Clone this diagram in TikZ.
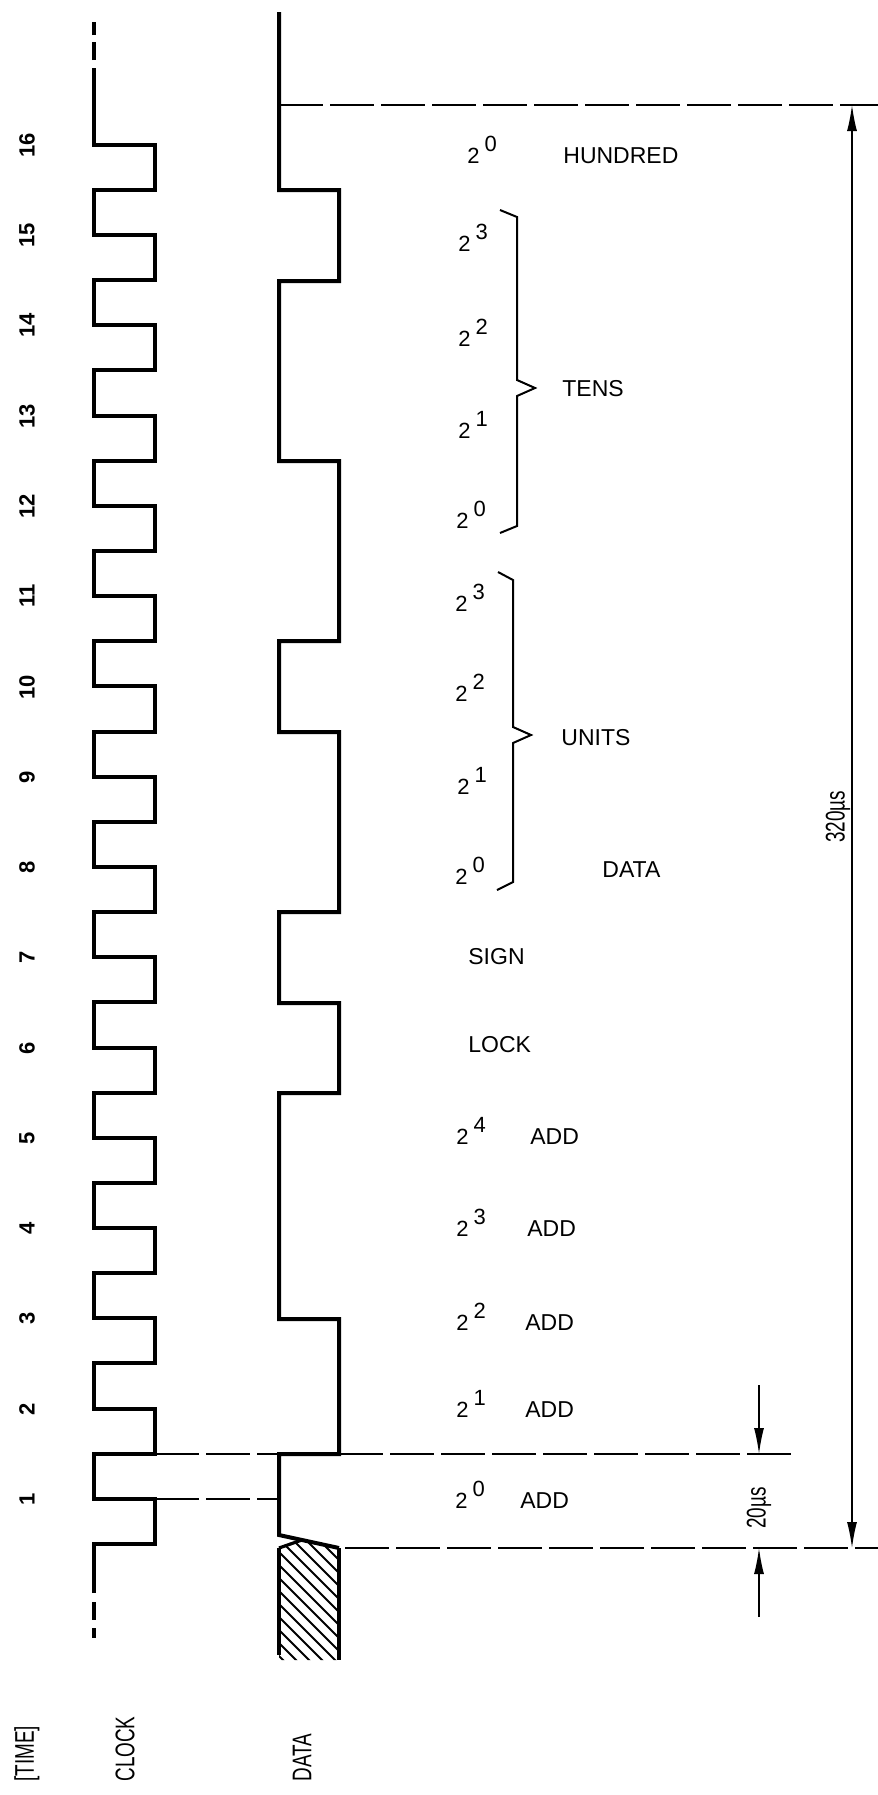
\documentclass[tikz,border=0pt]{standalone}
\usepackage{fontspec}
\setmainfont{Liberation Sans}
\newfontfamily\narrowfont[FakeStretch=0.7]{Liberation Sans}
\usetikzlibrary{arrows.meta}

\newcommand{\twopow}[1]{2\hspace{2.5pt}\smash{\raisebox{6pt}{#1}}}

\begin{document}
\begin{tikzpicture}[x=0.5pt, y=-0.5pt]
    \tikzset{wave/.style={line width=2pt}}
    \tikzset{guide/.style={line width=1.2pt, dash pattern=on 22pt off 3.5pt}}
    \tikzset{dim/.style={line width=0.7pt}}
    \tikzset{brace/.style={line width=1pt}}
    \tikzset{bit/.style={anchor=west, inner sep=0pt, font=\fontsize{11}{13}\selectfont}}
    \tikzset{word/.style={anchor=west, inner sep=0pt, font=\fontsize{11.5}{13}\selectfont}}
    \tikzset{timenum/.style={rotate=90, inner sep=0pt, font=\bfseries\fontsize{11}{13}\selectfont}}
    \tikzset{vlabel/.style={rotate=90, inner sep=0pt, font=\narrowfont\fontsize{13.5}{15}\selectfont}}

    % page
    \useasboundingbox (0,0) rectangle (878,1795);

    % clock
    \draw[wave] (94,1593) -- (94,1544)
      \foreach \k in {1,...,16} { -- ++(61,0) -- ++(0,-45.13) -- ++(-61,0) -- ++(0,-45.14) }
      -- (94,68);
    \draw[wave] (94,60) -- (94,42);
    \draw[wave] (94,35) -- (94,22);
    \draw[wave] (94,1602) -- (94,1620);
    \draw[wave] (94,1628) -- (94,1638);

    % data
    \draw[wave] (279,12) -- (279,190) -- (339,190) -- (339,281) -- (279,281)
      -- (279,461) -- (339,461) -- (339,641) -- (279,641) -- (279,732)
      -- (339,732) -- (339,912) -- (279,912) -- (279,1003) -- (339,1003)
      -- (339,1093) -- (279,1093) -- (279,1319) -- (339,1319) -- (339,1454)
      -- (279,1454) -- (279,1535) -- (339,1548);

    % hatched start
    \coordinate (hatch left)  at (279,1548);
    \coordinate (hatch cross) at (301,1540.3);
    \coordinate (hatch right) at (339,1548);
    \begin{scope}
      \clip (hatch left) -- (hatch cross) -- (hatch right) -- (339,1660) -- (279,1660) -- cycle;
      \foreach \s in {0,...,16} \draw[line width=1pt] ({140+13*\s},1530) -- ++(140,140);
    \end{scope}
    \draw[wave, line width=1.6pt] (hatch left) -- (hatch cross);
    \draw[wave, line width=1.6pt] (hatch left) -- (279,1655);
    \draw[wave, line width=1.6pt] (hatch right) -- (339,1660);

    % dashed guides
    \draw[guide] (279,105) -- (878,105);
    \draw[guide] (155,1454) -- (279,1454);
    \draw[guide] (339,1454) -- (797,1454);
    \draw[guide] (155,1499) -- (279,1499);
    \draw[guide] (345,1548) -- (878,1548);

    % dimensions
    \coordinate (frame top)       at (852,105);
    \coordinate (frame bottom)    at (852,1548);
    \coordinate (bit top)         at (759,1454);
    \coordinate (bit top tail)    at (759,1385);
    \coordinate (bit bottom)      at (759,1548);
    \coordinate (bit bottom tail) at (759,1617);
    \begin{scope}[>={Latex[length=13pt, width=5pt]}]
      \draw[dim, <->] (frame top) -- (frame bottom);
      \draw[dim, ->] (bit top tail) -- (bit top);
      \draw[dim, ->] (bit bottom tail) -- (bit bottom);
    \end{scope}
    \node[vlabel] (frame time) at (838,817) {320µs};
    \node[vlabel] (bit time) at (759,1508) {20µs};

    % braces
    \draw[brace] (500,210) -- (517,217) -- (517,380) -- (535,388) -- (517,396) -- (517,526) -- (500,533);
    \draw[brace] (498,572) -- (513,580) -- (513,727) -- (531,735) -- (513,743) -- (513,882) -- (497,890);

    % text: bit meanings
    \node[bit]  (hundred bit) at (467,156) {\twopow{0}};
    \node[word] (hundred)     at (563,156) {HUNDRED};
    \node[bit]  (tens bit3)   at (458,244) {\twopow{3}};
    \node[bit]  (tens bit2)   at (458,339) {\twopow{2}};
    \node[bit]  (tens bit1)   at (458,431) {\twopow{1}};
    \node[bit]  (tens bit0)   at (456,521) {\twopow{0}};
    \node[word] (tens)        at (562,389) {TENS};
    \node[bit]  (units bit3)  at (455,604) {\twopow{3}};
    \node[bit]  (units bit2)  at (455,694) {\twopow{2}};
    \node[bit]  (units bit1)  at (457,787) {\twopow{1}};
    \node[bit]  (units bit0)  at (455,877) {\twopow{0}};
    \node[word] (units)       at (561,738) {UNITS};
    \node[word] (data word)   at (602,870) {DATA};
    \node[word] (sign)        at (468,957) {SIGN};
    \node[word] (lock)        at (468,1045) {LOCK};
    \node[bit]  (add bit4)    at (456,1137) {\twopow{4}};
    \node[word] (add4)        at (530,1137) {ADD};
    \node[bit]  (add bit3)    at (456,1229) {\twopow{3}};
    \node[word] (add3)        at (527,1229) {ADD};
    \node[bit]  (add bit2)    at (456,1323) {\twopow{2}};
    \node[word] (add2)        at (525,1323) {ADD};
    \node[bit]  (add bit1)    at (456,1410) {\twopow{1}};
    \node[word] (add1)        at (525,1410) {ADD};
    \node[bit]  (add bit0)    at (455,1501) {\twopow{0}};
    \node[word] (add0)        at (520,1501) {ADD};

    % text: time
    \node[timenum] (time 1)  at (27,1499) {1};
    \node[timenum] (time 2)  at (27,1409) {2};
    \node[timenum] (time 3)  at (27,1318) {3};
    \node[timenum] (time 4)  at (27,1228) {4};
    \node[timenum] (time 5)  at (27,1138) {5};
    \node[timenum] (time 6)  at (27,1048) {6};
    \node[timenum] (time 7)  at (27,957)  {7};
    \node[timenum] (time 8)  at (27,867)  {8};
    \node[timenum] (time 9)  at (27,777)  {9};
    \node[timenum] (time 10) at (27,687)  {10};
    \node[timenum] (time 11) at (27,596)  {11};
    \node[timenum] (time 12) at (27,506)  {12};
    \node[timenum] (time 13) at (27,416)  {13};
    \node[timenum] (time 14) at (27,325)  {14};
    \node[timenum] (time 15) at (27,235)  {15};
    \node[timenum] (time 16) at (27,145)  {16};

    % text: rows
    \node[vlabel, anchor=west] (time title)  at (27,1782)  {[TIME]};
    \node[vlabel, anchor=west] (clock title) at (125,1782) {CLOCK};
    \node[vlabel, anchor=west] (data title)  at (302,1782) {DATA};
\end{tikzpicture}
\end{document}
